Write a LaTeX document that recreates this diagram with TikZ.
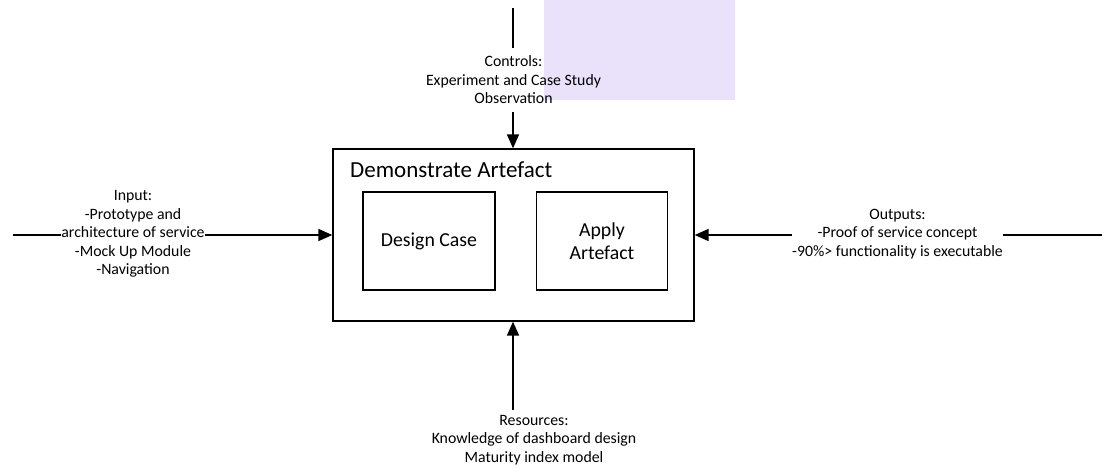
\documentclass[tikz,border=0pt]{standalone}
\usepackage{fontspec}
\setmainfont{Carlito}
\usetikzlibrary{arrows.meta}
\definecolor{lavender}{RGB}{233,226,250}
\begin{document}
\begin{tikzpicture}[x=1pt,y=-1pt,
  frame/.style={draw,line width=1.3pt},
  flow/.style={line width=1.6pt},
  tip/.style={flow,-{Triangle[length=14pt,width=12pt]}},
  label/.style={align=center,font=\fontsize{15.8}{18.5}\selectfont,inner sep=0pt}]
  \useasboundingbox[fill=white] (0,0) rectangle (1102,467);
  % shaded patch at the top
  \fill[lavender] (544,0) rectangle (735,100);
  % main activity box with its two steps
  \node[frame,minimum width=361pt,minimum height=172pt,inner sep=0pt] (box) at (513.5,235) {};
  \node[anchor=base west,font=\fontsize{23}{25}\selectfont,inner sep=0pt] (title) at (350,177) {Demonstrate Artefact};
  \node[frame,minimum width=132pt,minimum height=98pt,font=\fontsize{19.8}{23}\selectfont] (design) at (429,241) {Design Case};
  \node[frame,minimum width=131pt,minimum height=98pt,align=center,font=\fontsize{19.8}{23}\selectfont] (apply) at (602,241) {Apply\\Artefact};
  % controls
  \coordinate (ctop) at (513,8);
  \node[label,inner ysep=8pt] (ctrl) at (513.5,80) {Controls:\\Experiment and Case Study\\Observation};
  \draw[flow] (ctop) -- (ctrl.north -| ctop);
  \draw[tip] (ctrl.south -| ctop) -- (box.north -| ctop);
  % input
  \coordinate (ileft) at (13,235);
  \node[label] (inp) at (133,234) {Input:\\-Prototype and\\architecture of service\\-Mock Up Module\\-Navigation};
  \draw[flow] (ileft) -- (inp.west |- ileft);
  \draw[tip] (inp.east |- ileft) -- (box.west);
  % outputs
  \coordinate (oright) at (1102,235);
  \node[label] (outp) at (897.5,234) {Outputs:\\-Proof of service concept\\-90\%> functionality is executable};
  \draw[flow] (oright) -- (outp.east |- oright);
  \draw[tip] (outp.west |- oright) -- (box.east);
  % resources
  \coordinate (rbot) at (513,410);
  \node[label] (res) at (534,440) {Resources:\\Knowledge of dashboard design\\Maturity index model};
  \draw[tip] (rbot) -- (box.south -| rbot);
\end{tikzpicture}
\end{document}
